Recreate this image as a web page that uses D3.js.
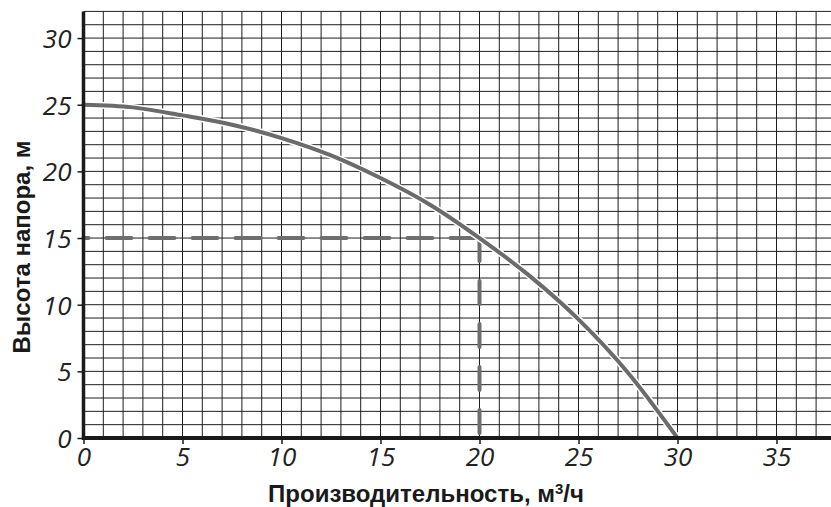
<!DOCTYPE html>
<html>
<head>
<meta charset="utf-8">
<script src="https://cdn.jsdelivr.net/npm/d3@7"></script>
<style>
  body { margin: 0; background: #fff; }
  svg { display: block; }
</style>
</head>
<body>
<svg id="chart" width="831" height="507"></svg>
<script>
// pump curve: flow (m3/h) vs head (m)
const flow = [0, 2.5, 5, 7.5, 10, 12.5, 15, 17.5, 20, 22.5, 25, 27.5, 30];
const head = [25, 24.8, 24.2, 23.5, 22.5, 21.2, 19.5, 17.5, 15, 12.2, 8.9, 4.9, 0];

// working point
const dutyFlow = 20;
const dutyHead = 15;

const xTicks = [0, 5, 10, 15, 20, 25, 30, 35];
const yTicks = [0, 5, 10, 15, 20, 25, 30];

const svg = d3.select("#chart"),
      width = +svg.attr("width"),
      height = +svg.attr("height");

const x = d3.scaleLinear().domain([0, 38]).range([83.5, 83.5 + 38 * 19.8]);
const y = d3.scaleLinear().domain([0, 32]).range([438, 11.4]);

// grid, every 1 unit
const grid = svg.append("g").attr("stroke", "#1e1e1e").attr("stroke-width", 1);
grid.selectAll(".vx")
  .data(d3.range(1, 38))
  .enter().append("line")
  .attr("x1", d => x(d)).attr("x2", d => x(d))
  .attr("y1", y(32)).attr("y2", y(0));
grid.selectAll(".hy")
  .data(d3.range(1, 33))
  .enter().append("line")
  .attr("x1", x(0)).attr("x2", width)
  .attr("y1", d => y(d)).attr("y2", d => y(d));

// dashed guide to the duty point
const dashColor = "#6e6e6e";
svg.append("line")
  .attr("x1", x(0)).attr("x2", x(dutyFlow))
  .attr("y1", y(dutyHead)).attr("y2", y(dutyHead))
  .attr("stroke", dashColor).attr("stroke-width", 4)
  .attr("stroke-dasharray", "25,18").attr("stroke-dashoffset", 20)
  .attr("stroke-linecap", "round");
svg.append("line")
  .attr("x1", x(dutyFlow)).attr("x2", x(dutyFlow))
  .attr("y1", y(dutyHead)).attr("y2", y(0))
  .attr("stroke", dashColor).attr("stroke-width", 4)
  .attr("stroke-dasharray", "23,20")
  .attr("stroke-linecap", "round");

// curve with white halo
const pts = flow.map((f, i) => [f, head[i]]);
const line = d3.line()
  .x(d => x(d[0]))
  .y(d => y(d[1]))
  .curve(d3.curveMonotoneX);

svg.append("path")
  .attr("d", line(pts))
  .attr("fill", "none")
  .attr("stroke", "#fff")
  .attr("stroke-width", 7)
  .attr("stroke-linecap", "round");
svg.append("path")
  .attr("d", line(pts))
  .attr("fill", "none")
  .attr("stroke", "#6b6b6b")
  .attr("stroke-width", 4)
  .attr("stroke-linecap", "round");

// axes
const xAxis = d3.axisBottom(x).tickValues(xTicks).tickSize(6).tickPadding(3).tickFormat(d3.format("d"));
const yAxis = d3.axisLeft(y).tickValues(yTicks).tickSize(6).tickPadding(6).tickFormat(d3.format("d"));

const gx = svg.append("g")
  .attr("transform", `translate(0,${y(0)})`)
  .call(xAxis);
const gy = svg.append("g")
  .attr("transform", `translate(${x(0)},0)`)
  .call(yAxis);

[gx, gy].forEach(g => {
  g.select(".domain").remove();
  g.selectAll(".tick line").attr("stroke", "#1a1a1a").attr("stroke-width", 1.5);
  g.selectAll(".tick text")
    .attr("fill", "#222")
    .style("font-family", "'Open Sans', sans-serif")
    .style("font-style", "italic")
    .style("font-size", "26px");
});
gx.selectAll(".tick text").attr("dy", "0.74em");
gy.selectAll(".tick text").attr("dy", "0.36em");

svg.append("line")
  .attr("x1", x(0)).attr("x2", width)
  .attr("y1", y(0)).attr("y2", y(0))
  .attr("stroke", "#1a1a1a").attr("stroke-width", 4);
svg.append("line")
  .attr("x1", x(0)).attr("x2", x(0))
  .attr("y1", y(32)).attr("y2", y(0) + 2)
  .attr("stroke", "#1a1a1a").attr("stroke-width", 3.5);

// titles
svg.append("text")
  .attr("x", 426).attr("y", 502)
  .attr("text-anchor", "middle")
  .attr("fill", "#1a1a1a")
  .style("font-family", "'Liberation Sans', Arial, sans-serif")
  .style("font-weight", "bold")
  .style("font-size", "24px")
  .html("Производительность, м<tspan dy='-8' font-size='15'>3</tspan><tspan dy='8'>/ч</tspan>");

svg.append("text")
  .attr("transform", "translate(30,247) rotate(-90)")
  .attr("text-anchor", "middle")
  .attr("fill", "#1a1a1a")
  .style("font-family", "'Liberation Sans', Arial, sans-serif")
  .style("font-weight", "bold")
  .style("font-size", "24px")
  .text("Высота напора, м");
</script>
</body>
</html>
